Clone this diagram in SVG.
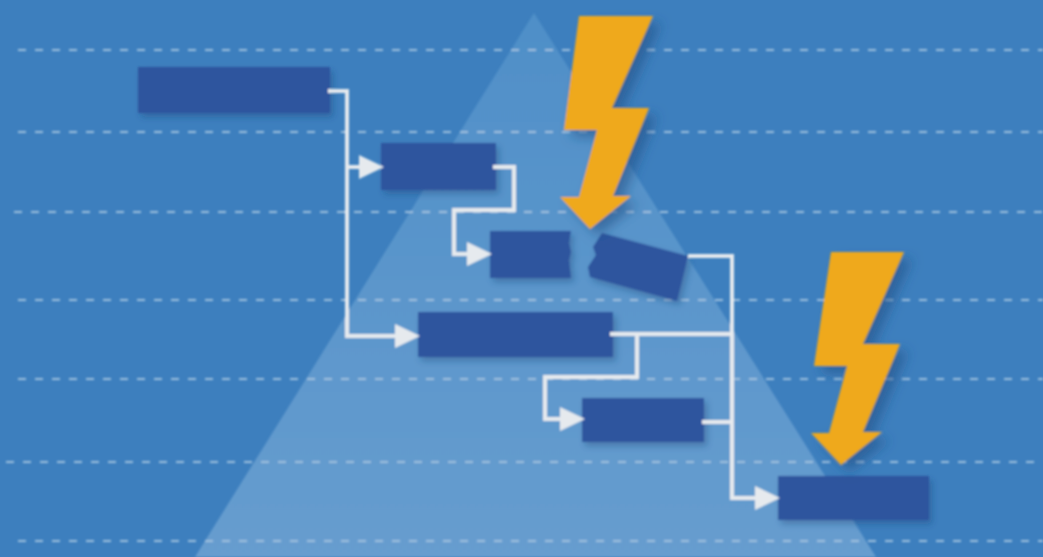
<svg xmlns="http://www.w3.org/2000/svg" width="1043" height="557" viewBox="0 0 1043 557">
<style>
.grid{stroke:#9dbfde;stroke-width:2;stroke-dasharray:8 9;fill:none}
.conn{stroke:#e6eaee;stroke-width:4;fill:none;stroke-linejoin:miter}
.arr{marker-end:url(#head)}
.box{fill:#2e559e;filter:url(#shadow)}
.bolt{fill:#efa91d;filter:url(#boltShadow)}
</style>
<defs>
<linearGradient id="tri" x1="0" y1="0" x2="0" y2="1"><stop offset="0" stop-color="#4f8fc8"/><stop offset="1" stop-color="#679dcf"/></linearGradient>
<filter id="soft" x="-2%" y="-2%" width="104%" height="104%"><feGaussianBlur stdDeviation="0.9"/></filter>
<filter id="shadow" x="-15%" y="-25%" width="130%" height="160%"><feDropShadow dx="3" dy="4" stdDeviation="3" flood-color="#1d3f73" flood-opacity="0.38"/></filter>
<filter id="boltShadow" x="-25%" y="-10%" width="160%" height="125%"><feDropShadow dx="8" dy="7" stdDeviation="6" flood-color="#1f4c80" flood-opacity="0.55"/></filter>
<marker id="head" markerUnits="userSpaceOnUse" markerWidth="26" markerHeight="26" refX="0" refY="12.5" orient="auto"><path d="M0 0.5L25 12.5L0 24.5Z" fill="#e6eaee"/></marker>
</defs>
<rect width="1043" height="557" fill="#3d7fbe"/>
<g filter="url(#soft)">
<polygon points="534,13 876,557 195,557" fill="url(#tri)"/>
<g id="grid">
<path class="grid" d="M18 50H1043"/>
<path class="grid" d="M18 132H1043"/>
<path class="grid" d="M14 212H1043"/>
<path class="grid" d="M18 300H1043"/>
<path class="grid" d="M18 379H1043"/>
<path class="grid" d="M6 462H1043"/>
<path class="grid" d="M18 541H1043"/>
</g>
<g id="node-1"><rect class="box" x="138" y="67" width="192" height="46"/></g>
<g id="node-2"><rect class="box" x="381" y="143" width="115" height="47"/></g>
<g id="node-3"><path class="box" d="M490 231H571L569 243L571 252L569 260L571 278H490Z"/></g>
<g id="node-4"><path class="box" d="M602 233L688 256L677 301L590 277L588 267L596 255L593 247Z"/></g>
<g id="node-5"><rect class="box" x="418" y="312" width="195" height="45"/></g>
<g id="node-6"><rect class="box" x="582" y="398" width="122" height="44"/></g>
<g id="node-7"><rect class="box" x="778" y="476" width="151" height="44"/></g>
<g id="connectors">
<path class="conn arr" d="M328 91H347V336H395"/>
<path class="conn arr" d="M347 167H359"/>
<path class="conn arr" d="M493 167H514V210H454V254H467"/>
<path class="conn arr" d="M688 256H732V498H755"/>
<path class="conn" d="M610 334H732"/>
<path class="conn arr" d="M637 334V377H545V419H560"/>
<path class="conn" d="M702 422H732"/>
</g>
<g id="bolt-1"><polygon class="bolt" points="579,16 653,16 612,108 649,108 613,196 631,196 590,229 560,197 579,197 597,130 564,130"/></g>
<g id="bolt-2"><polygon class="bolt" points="831,252 904,252 863,344 900,344 863,432 882,432 841,465 811,433 829,433 847,366 814,366"/></g>
</g>
</svg>
